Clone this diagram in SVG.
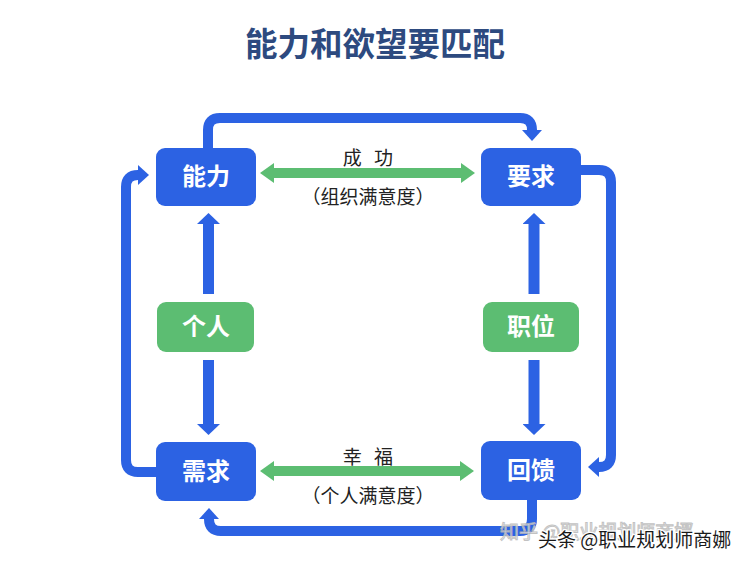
<svg xmlns="http://www.w3.org/2000/svg" width="749" height="567" viewBox="0 0 749 567">
<style>
.bg{fill:#ffffff}
.title{font-family:"Noto Sans CJK SC","Noto Sans",sans-serif;font-size:32.5px;font-weight:bold;fill:#2d4a7f;text-anchor:middle}
.nodeB{fill:#2c62e3}
.nodeG{fill:#5cbd72}
.ntext{font-family:"Noto Sans CJK SC","Noto Sans",sans-serif;font-size:24px;font-weight:bold;fill:#ffffff;text-anchor:middle}
.label{font-family:"Noto Sans CJK SC","Noto Sans",sans-serif;font-size:19px;fill:#222222;text-anchor:middle}
.conn{fill:none;stroke:#2c62e3;stroke-width:10}
.vshaft{fill:none;stroke:#2c62e3;stroke-width:11}
.gshaft{fill:none;stroke:#5cbd72;stroke-width:10}
.wm1{font-family:"Noto Sans CJK SC","Noto Sans",sans-serif;font-size:19px;fill:#ffffff;stroke:#b8b8b8;stroke-width:1;opacity:0.85}
.wm2{font-family:"Noto Sans CJK SC","Noto Sans",sans-serif;font-size:19px;fill:#1a1a1a;stroke:#ffffff;stroke-width:2.5;paint-order:stroke}
</style>
<defs>
<marker id="ab" viewBox="0 0 11 20" refX="0" refY="10" markerWidth="11" markerHeight="20" markerUnits="userSpaceOnUse" orient="auto">
<path d="M0,0 L11,10 L0,20 z" fill="#2c62e3"/>
</marker>
<marker id="av" viewBox="0 0 11 23" refX="0" refY="11.5" markerWidth="11" markerHeight="23" markerUnits="userSpaceOnUse" orient="auto">
<path d="M0,0 L11,11.5 L0,23 z" fill="#2c62e3"/>
</marker>
<marker id="ag" viewBox="0 0 14 20" refX="0" refY="10" markerWidth="14" markerHeight="20" markerUnits="userSpaceOnUse" orient="auto-start-reverse">
<path d="M0,0 L14,10 L0,20 z" fill="#5cbd72"/>
</marker>
</defs>
<rect class="bg" x="0" y="0" width="749" height="567"/>
<text class="title" x="375" y="56">能力和欲望要匹配</text>

<g id="connectors">
<path class="conn" d="M208,152 V130 Q208,118 220,118 H520 Q532,118 532,130" marker-end="url(#ab)"/>
<path class="conn" d="M576,170 H599 Q611,170 611,182 V455 Q611,467 599,467" marker-end="url(#ab)"/>
<path class="conn" d="M532,496 V519 Q532,531 520,531 H221 Q209,531 209,519" marker-end="url(#ab)"/>
<path class="conn" d="M160,472 H138 Q126,472 126,460 V187 Q126,175 138,175" marker-end="url(#ab)"/>
<path class="vshaft" d="M208.5,294 V224" marker-end="url(#av)"/>
<path class="vshaft" d="M208.5,360 V424" marker-end="url(#av)"/>
<path class="vshaft" d="M534,294 V224" marker-end="url(#av)"/>
<path class="vshaft" d="M534,360 V424" marker-end="url(#av)"/>
<path class="gshaft" d="M274,173 H461" marker-start="url(#ag)" marker-end="url(#ag)"/>
<path class="gshaft" d="M274,471 H460" marker-start="url(#ag)" marker-end="url(#ag)"/>
</g>

<g id="node-nengli">
<rect class="nodeB" x="156" y="148" width="100" height="58" rx="9"/>
<text class="ntext" x="206" y="185">能力</text>
</g>
<g id="node-yaoqiu">
<rect class="nodeB" x="481" y="148" width="100" height="58" rx="9"/>
<text class="ntext" x="531" y="185">要求</text>
</g>
<g id="node-xuqiu">
<rect class="nodeB" x="156" y="442" width="100" height="59" rx="9"/>
<text class="ntext" x="206" y="480">需求</text>
</g>
<g id="node-huikui">
<rect class="nodeB" x="481" y="441" width="100" height="59" rx="9"/>
<text class="ntext" x="531" y="479">回馈</text>
</g>
<g id="node-geren">
<rect class="nodeG" x="157" y="302" width="97" height="50" rx="9"/>
<text class="ntext" x="206" y="335">个人</text>
</g>
<g id="node-zhiwei">
<rect class="nodeG" x="483" y="302" width="96" height="50" rx="9"/>
<text class="ntext" x="531" y="335">职位</text>
</g>

<g id="labels">
<text class="label" x="368" y="165" style="word-spacing:8px">成 功</text>
<text class="label" x="368" y="204">（组织满意度）</text>
<text class="label" x="368" y="464" style="word-spacing:8px">幸 福</text>
<text class="label" x="368" y="503">（个人满意度）</text>
</g>

<g id="watermark">
<text class="wm1" x="500" y="539">知乎 @职业规划师商娜</text>
<text class="wm2" x="538" y="547">头条 @职业规划师商娜</text>
</g>
</svg>
